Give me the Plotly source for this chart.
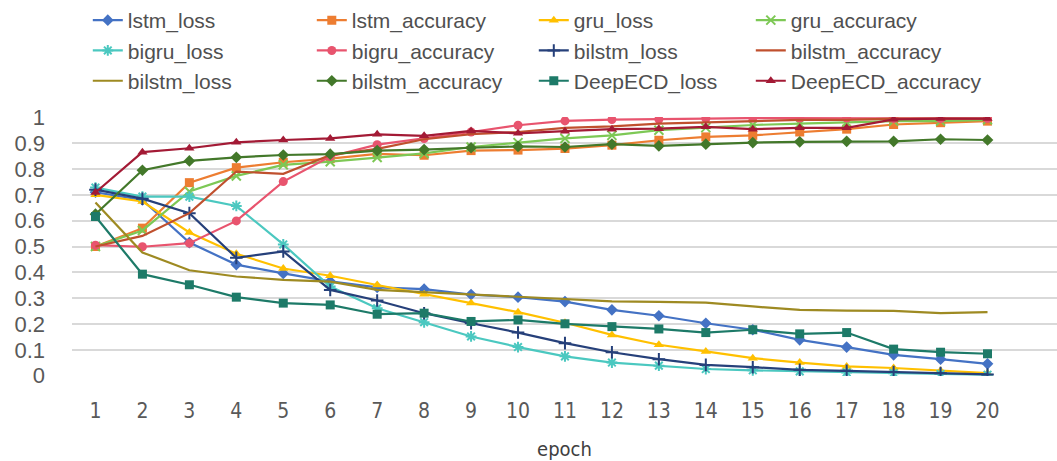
import plotly.graph_objects as go

epochs = list(range(1, 21))

lstm_loss = [0.71, 0.68, 0.515, 0.43, 0.396, 0.365, 0.342, 0.335, 0.314, 0.304,
             0.287, 0.255, 0.232, 0.203, 0.178, 0.139, 0.111, 0.081, 0.064, 0.046]
lstm_accuracy = [0.50, 0.571, 0.747, 0.805, 0.826, 0.84, 0.858, 0.853, 0.871, 0.873,
                 0.879, 0.892, 0.911, 0.924, 0.93, 0.943, 0.954, 0.972, 0.979, 0.985]
gru_loss = [0.70, 0.674, 0.554, 0.472, 0.415, 0.387, 0.351, 0.315, 0.281, 0.246,
            0.205, 0.158, 0.12, 0.094, 0.068, 0.051, 0.036, 0.03, 0.019, 0.01]
gru_accuracy = [0.50, 0.562, 0.713, 0.773, 0.816, 0.828, 0.844, 0.86, 0.885, 0.902,
                0.918, 0.93, 0.95, 0.96, 0.97, 0.975, 0.98, 0.985, 0.985, 0.99]
bigru_loss = [0.728, 0.693, 0.693, 0.657, 0.508, 0.345, 0.261, 0.207, 0.152, 0.111,
              0.075, 0.051, 0.039, 0.026, 0.021, 0.017, 0.013, 0.01, 0.007, 0.004]
bigru_accuracy = [0.505, 0.499, 0.513, 0.599, 0.751, 0.848, 0.894, 0.918, 0.943, 0.969,
                  0.986, 0.991, 0.992, 0.995, 0.997, 0.997, 0.997, 0.995, 0.995, 0.995]
bilstm_loss_a = [0.72, 0.685, 0.629, 0.456, 0.481, 0.332, 0.291, 0.242, 0.203, 0.167,
                 0.126, 0.091, 0.064, 0.042, 0.033, 0.023, 0.019, 0.014, 0.01, 0.005]
bilstm_accuracy_a = [0.50, 0.541, 0.629, 0.79, 0.781, 0.854, 0.878, 0.915, 0.935, 0.943,
                     0.959, 0.965, 0.975, 0.98, 0.985, 0.99, 0.99, 0.995, 0.995, 0.995]
bilstm_loss_b = [0.67, 0.477, 0.408, 0.384, 0.371, 0.364, 0.332, 0.323, 0.313, 0.304,
                 0.296, 0.288, 0.286, 0.283, 0.268, 0.255, 0.252, 0.251, 0.242, 0.246]
bilstm_accuracy_b = [0.625, 0.795, 0.831, 0.845, 0.854, 0.857, 0.871, 0.875, 0.882, 0.887,
                     0.885, 0.896, 0.889, 0.896, 0.902, 0.905, 0.907, 0.907, 0.915, 0.912]
deepecd_loss = [0.616, 0.393, 0.352, 0.304, 0.281, 0.274, 0.238, 0.242, 0.21, 0.216,
                0.201, 0.19, 0.181, 0.167, 0.178, 0.162, 0.167, 0.103, 0.091, 0.085]
deepecd_accuracy = [0.709, 0.865, 0.88, 0.903, 0.912, 0.918, 0.934, 0.928, 0.947, 0.938,
                    0.946, 0.954, 0.956, 0.963, 0.954, 0.959, 0.959, 0.992, 0.995, 0.995]

x_ticks = [str(e) for e in epochs]
y_ticks = [0, 0.1, 0.2, 0.3, 0.4, 0.5, 0.6, 0.7, 0.8, 0.9, 1]
y_tick_text = ["0", "0.1", "0.2", "0.3", "0.4", "0.5", "0.6", "0.7", "0.8", "0.9", "1"]

series = [
    # name, values, color, symbol, legend column
    ("lstm_loss", lstm_loss, "#4472C4", "diamond", "legend"),
    ("lstm_accuracy", lstm_accuracy, "#ED7D31", "square", "legend2"),
    ("gru_loss", gru_loss, "#FFC000", "triangle-up", "legend3"),
    ("gru_accuracy", gru_accuracy, "#7DC855", "x-thin-open", "legend4"),
    ("bigru_loss", bigru_loss, "#4BC8C0", "asterisk-open", "legend"),
    ("bigru_accuracy", bigru_accuracy, "#E8546E", "circle", "legend2"),
    ("bilstm_loss", bilstm_loss_a, "#26407A", "cross-thin-open", "legend3"),
    ("bilstm_accuracy", bilstm_accuracy_a, "#C0502E", None, "legend4"),
    ("bilstm_loss", bilstm_loss_b, "#9E8A22", None, "legend"),
    ("bilstm_accuracy", bilstm_accuracy_b, "#43782A", "diamond", "legend2"),
    ("DeepECD_loss", deepecd_loss, "#1D7A68", "square", "legend3"),
    ("DeepECD_accuracy", deepecd_accuracy, "#A31A35", "triangle-up", "legend4"),
]

fig = go.Figure()
for i, (name, vals, color, sym, leg) in enumerate(series):
    if sym is None:
        mode = "lines"
        marker = None
    else:
        mode = "lines+markers"
        marker = dict(symbol=sym, size=9, color=color,
                      line=dict(color=color, width=2 if "thin" in sym or "open" in sym else 0))
    fig.add_trace(go.Scatter(
        x=epochs, y=vals, name=name, mode=mode,
        line=dict(color=color, width=2.2),
        marker=marker, legend=leg, legendgroup=f"g{i}",
    ))

leg_common = dict(orientation="v",
                  font=dict(family="Liberation Sans, Arial, sans-serif", size=21, color="#505050"),
                  xanchor="left", yanchor="top", y=(376 - 0) / 259, bgcolor="rgba(0,0,0,0)",
                  tracegroupgap=0, itemwidth=30)

col_text_px = [128, 352, 574, 791]
col_x = [(px - 40.2 - 72) / 985 for px in col_text_px]

fig.update_layout(
    width=1057, height=461,
    margin=dict(l=72, r=0, t=117, b=85, autoexpand=False),
    paper_bgcolor="white", plot_bgcolor="white",
    legend=dict(**leg_common, x=col_x[0]),
    legend2=dict(**leg_common, x=col_x[1]),
    legend3=dict(**leg_common, x=col_x[2]),
    legend4=dict(**leg_common, x=col_x[3]),
    xaxis=dict(range=[0.5, 21.48], tickmode="array", tickvals=epochs, ticktext=x_ticks,
               showgrid=False, zeroline=False, showline=False, ticks="",
               tickfont=dict(family="Liberation Sans Narrow, DejaVu Sans Condensed, Liberation Sans, sans-serif",
                             size=21, color="#595959"),
               ticklabelstandoff=20,
               title=dict(text="epoch", standoff=23,
                          font=dict(family="Liberation Sans Narrow, DejaVu Sans Condensed, sans-serif",
                                    size=20, color="#404040"))),
    yaxis=dict(range=[-0.001, 1.001], tickmode="array", tickvals=y_ticks, ticktext=y_tick_text,
               showgrid=True, gridcolor="#D9D9D9", gridwidth=1.5, zeroline=False, showline=False,
               ticks="", ticklabelstandoff=26,
               tickfont=dict(family="Liberation Sans, Arial, sans-serif", size=22, color="#595959")),
)

fig.write_html("out.html", config={"displayModeBar": False},
               post_script="document.body.style.margin='0';")
